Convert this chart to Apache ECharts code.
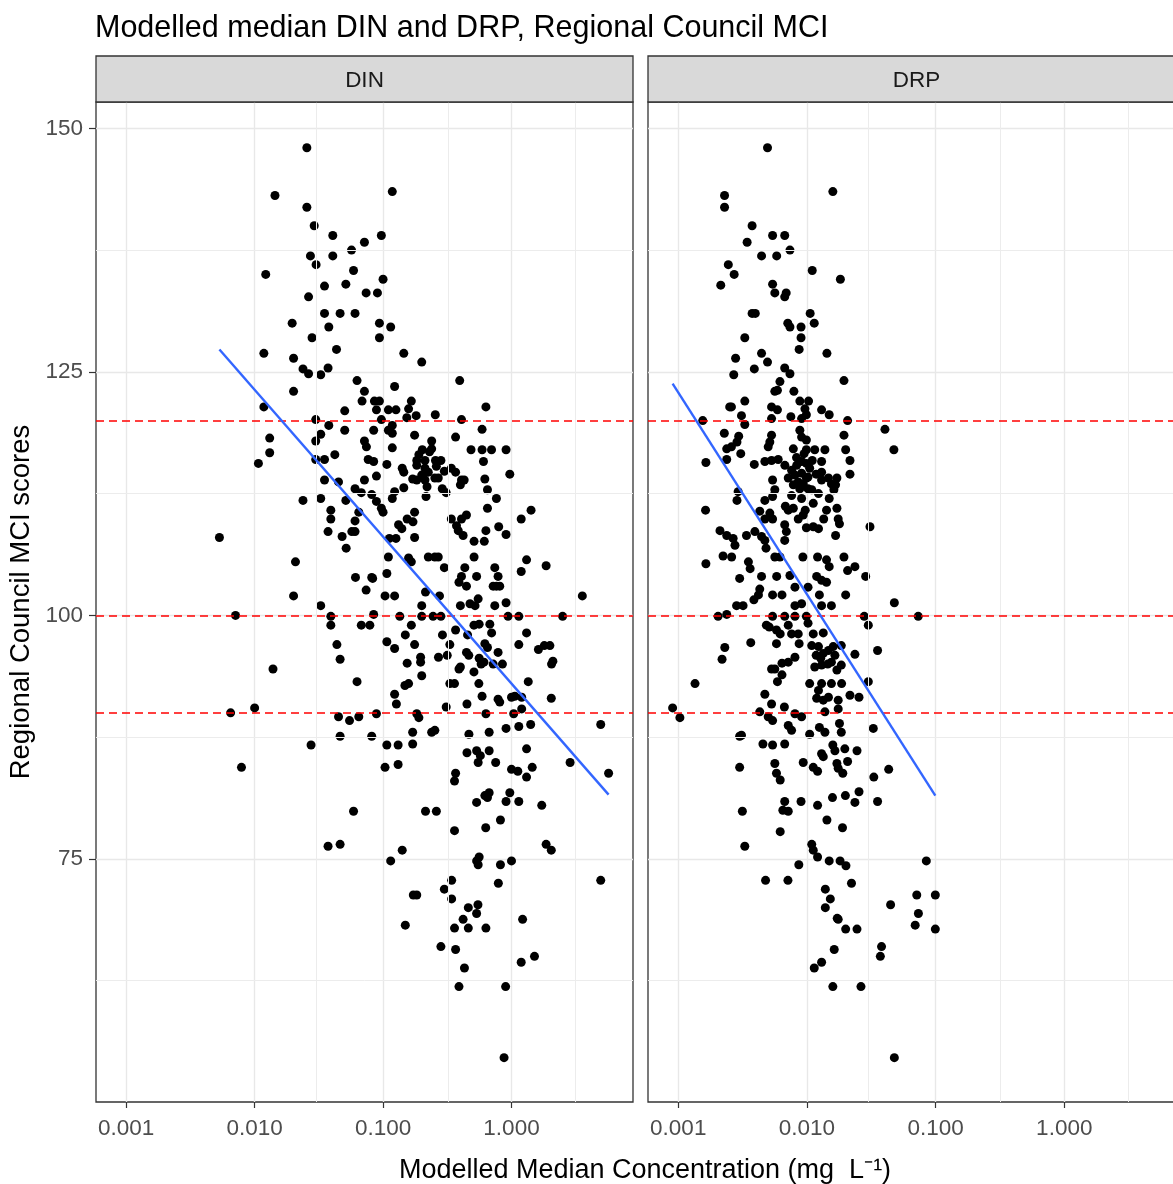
<!DOCTYPE html>
<html>
<head>
<meta charset="utf-8">
<title>Modelled median DIN and DRP, Regional Council MCI</title>
<script src="https://cdn.jsdelivr.net/npm/echarts@6.0.0/dist/echarts.min.js"></script>
<style>
  html, body { margin: 0; padding: 0; background: #fff; }
  #chart { width: 1173px; height: 1184px; }
</style>
</head>
<body>
<div id="chart"></div>
<script>
// facet names
var panels = ['DIN', 'DRP'];

// axis breaks (ggplot style: majors labelled, minors are log midpoints)
var xTicks = [0.001, 0.01, 0.1, 1];
var xMinor = [0.00316, 0.0316, 0.316, 3.16];
var yTicks = [75, 100, 125, 150];
var yMinor = [62.5, 87.5, 112.5, 137.5];

// red dashed reference lines (MCI quality classes)
var refLines = [120, 100, 90];

// [modelled median DIN (mg/L), MCI score]
var dinPoints = [
  [0.0255,148.0],[0.0144,143.1],[0.118,143.5],[0.0255,141.9],[0.0291,140.0],[0.0406,139.0],[0.097,139.0],[0.0716,138.3],
  [0.0568,137.5],[0.0272,136.9],[0.0406,136.9],[0.0301,136.0],[0.0122,135.0],[0.0589,135.4],[0.100,134.5],[0.035,133.8],
  [0.0513,134.0],[0.0263,132.7],[0.0738,133.1],[0.0904,133.1],[0.035,131.0],[0.0463,131.0],[0.0605,131.0],[0.0196,130.0],
  [0.0937,130.0],[0.1146,129.6],[0.0378,129.6],[0.028,128.5],[0.0937,128.5],[0.0434,127.3],[0.0118,126.9],[0.145,126.9],
  [0.0201,126.4],[0.2,126.0],[0.0373,125.4],[0.0238,125.3],[0.0263,124.8],[0.0327,124.7],
  [0.0627,124.1],[0.395,124.1],[0.123,123.5],[0.0201,123.0],[0.0716,123.0],[0.0686,122.0],[0.0856,122.0],[0.0937,122.0],
  [0.166,122.0],[0.0888,121.1],[0.110,121.1],[0.126,121.1],[0.0118,121.4],[0.0503,121.0],[0.158,121.2],[0.632,121.4],
  [0.255,120.6],[0.181,120.5],[0.0299,120.1],[0.097,120.1],[0.118,119.5],[0.153,120.3],[0.408,120.1],[0.0378,119.5],
  [0.0131,118.2],[0.0327,118.6],[0.0299,117.9],[0.0503,119.0],[0.0845,119.0],[0.110,119.0],[0.118,118.7],[0.176,118.5],
  [0.367,118.3],[0.59,119.1],[0.0716,117.9],[0.0742,117.3],[0.239,117.9],[0.118,117.2],[0.0131,116.7],[0.202,117.0],
  [0.239,117.1],[0.484,117.0],[0.59,117.0],[0.699,117.0],[0.907,117.0],[0.0107,115.6],[0.0299,116.0],[0.035,116.0],
  [0.0421,116.5],[0.0766,116.0],[0.0845,115.8],[0.107,115.5],
  [0.183,115.9],[0.212,115.9],[0.256,115.9],[0.282,115.9],[0.183,115.4],[0.212,115.1],[0.2,114.4],[0.225,114.7],
  [0.253,114.1],[0.183,113.9],[0.212,113.9],[0.269,114.1],[0.19,116.5],[0.23,116.8],[0.26,115.3],[0.3,114.8],
  [0.22,113.2],[0.17,114.0],
  [0.605,115.8],[0.141,115.1],[0.145,114.7],[0.34,115.1],[0.367,114.7],[0.97,114.5],[0.0888,114.3],[0.035,113.9],
  [0.045,113.7],[0.0716,113.9],[0.408,113.9],[0.428,113.9],[0.4,113.4],[0.62,114.0],[0.65,112.9],[0.145,113.1],
  [0.0605,113.0],[0.0677,112.6],[0.123,112.7],[0.118,112.0],[0.289,113.0],[0.31,112.6],[0.216,112.2],[0.0238,111.8],
  [0.0327,112.0],[0.0513,111.8],[0.0816,112.4],[0.0888,111.7],[0.097,111.0],[0.1,110.6],[0.763,112.0],[0.0392,110.8],
  [0.0392,109.9],[0.0647,110.6],[0.176,110.6],[0.65,111.0],[1.42,110.8],[0.0605,109.7],[0.154,109.9],[0.171,109.6],
  [0.34,109.9],[0.408,109.9],[0.446,110.3],[1.19,109.9],[0.0373,108.6],[0.0605,108.6],[0.0571,108.6],[0.132,109.3],
  [0.14,108.9],[0.373,109.2],[0.385,108.7],[0.42,108.2],[0.632,108.7],[0.795,109.1],[0.907,108.3],[0.048,108.1],
  [0.112,107.9],[0.126,107.9],[0.176,108.0],[0.511,107.6],[0.614,107.6],[0.0516,106.9],[0.11,106.0],[0.158,105.9],
  [0.166,105.5],[0.225,106.0],[0.253,106.0],[0.269,106.0],[0.511,106.0],[0.0208,105.5],[1.31,105.7],[1.86,105.1],
  [0.3,104.9],[0.433,104.9],[0.741,104.9],[1.19,104.5],[0.061,103.9],[0.0816,103.9],[0.083,103.8],[0.107,104.3],
  [0.408,104.0],[0.39,103.4],[0.535,104.0],[0.786,104.0],[0.72,103.0],[0.763,103.0],[0.81,103.0],[0.446,103.0],
  [0.0738,102.6],[0.0201,102.0],[0.1036,102.0],[0.123,102.0],[0.214,102.4],[0.275,102.0],[3.56,102.0],[0.0327,101.0],
  [0.2,101.0],[0.4,101.0],[0.475,101.2],[0.52,101.0],[0.55,101.7],[0.741,101.0],[0.907,101.3],[0.00532,108.0],
  [0.0071,100.0],[0.0392,99.9],[0.0392,99.0],[0.0677,99.0],[0.0789,99.0],[0.0845,100.1],[0.135,99.9],[0.2,99.9],
  [0.245,99.9],[0.282,99.9],[0.166,99.0],[0.149,98.0],[0.29,98.0],[0.94,99.9],[1.14,99.9],[2.5,99.9],
  [0.51,99.0],[0.56,99.1],[0.678,99.1],[0.7,98.2],[0.367,98.5],[0.455,98.0],[1.31,98.2],[0.0437,97.0],
  [0.107,97.3],[0.123,96.6],[0.176,97.0],[0.331,97.0],[0.62,97.1],[0.65,96.7],[0.786,96.2],[1.14,97.0],
  [1.62,96.5],[1.8,96.9],[1.99,96.9],[0.0463,95.5],[0.0139,94.5],[0.196,95.7],[0.196,95.2],[0.154,95.1],
  [0.27,95.7],[0.316,95.9],[0.446,96.2],[0.465,95.9],[0.56,95.6],[0.58,95.0],[0.61,95.2],[0.72,95.0],
  [0.85,95.0],[2.05,95.0],[2.1,95.3],[0.4,94.7],[0.39,94.5],[0.51,94.2],[0.0627,93.2],[0.2,93.8],
  [0.148,92.8],[0.158,93.0],[0.331,93.0],[0.36,93.0],[0.557,93.0],[1.35,93.2],[0.123,91.9],[0.127,90.9],
  [0.59,91.7],[0.786,91.4],[0.81,91.1],[1.0,91.6],[1.06,91.7],[1.2,91.6],[2.04,91.5],[0.31,90.6],
  [0.45,90.9],[0.0065,90.0],[0.01,90.5],[0.045,89.6],[0.0548,89.2],[0.0647,89.6],[0.0888,89.9],[0.183,89.9],
  [0.19,89.5],[0.632,89.9],[1.04,89.9],[1.2,90.4],[4.95,88.8],[0.0463,87.6],[0.0816,87.6],[0.0275,86.7],
  [0.17,88.0],[0.17,86.8],[0.239,88.0],[0.253,88.2],[0.466,87.8],[0.67,88.0],[0.907,88.4],[1.14,88.6],
  [1.41,88.8],[0.107,86.7],[0.131,86.7],[0.0079,84.4],[0.1036,84.4],[0.131,84.7],[0.45,85.9],[0.535,86.1],
  [0.572,85.6],[0.55,84.9],[0.67,86.1],[0.753,84.9],[1.31,86.3],[1.0,84.2],[1.12,84.0],[1.31,83.4],
  [1.45,84.4],[2.86,84.9],[5.7,83.8],[0.367,83.8],[0.36,83.0],[0.535,80.8],[0.62,81.5],[0.67,81.8],
  [0.65,81.3],[0.907,80.9],[0.97,81.8],[1.14,80.9],[1.72,80.5],[0.0589,79.9],[0.214,79.9],[0.26,79.9],
  [0.82,79.0],[0.36,77.9],[0.63,78.2],
  [0.0373,76.3],[0.0463,76.5],[0.141,75.9],[0.1146,74.8],[1.86,76.5],[2.04,75.9],[0.535,74.8],[0.55,74.4],
  [0.56,75.2],[0.82,74.4],[1.0,74.8],[4.95,72.8],[0.342,72.8],[0.3,71.9],[0.342,70.9],[0.172,71.3],
  [0.183,71.3],[0.79,72.5],[0.461,70.0],[0.548,70.3],[0.535,69.4],[0.42,68.8],[1.22,68.8],[0.149,68.2],
  [0.36,67.9],[0.461,67.9],[0.632,67.9],[0.282,66.0],[0.367,65.7],[0.43,63.8],[1.19,64.4],[1.51,65.0],
  [0.39,61.9],[0.9,61.9],[0.875,54.6]
];

// [modelled median DRP (mg/L), MCI score]
var drpPoints = [
  [0.00494,148.0],[0.00229,143.1],[0.00229,141.9],[0.0159,143.5],[0.00375,140.0],[0.00541,139.0],[0.00672,139.0],[0.00343,138.3],
  [0.00738,137.5],[0.00444,136.9],[0.00582,136.9],[0.00245,136.0],[0.00272,135.0],[0.011,135.4],[0.0182,134.5],[0.00214,133.9],
  [0.00541,134.0],[0.00563,133.1],[0.0069,133.1],[0.00672,132.7],[0.00375,131.0],[0.00397,131.0],[0.0106,131.0],[0.0114,130.0],
  [0.0071,130.0],[0.00738,129.6],[0.009,129.6],[0.009,128.5],[0.0087,127.3],[0.00329,128.5],[0.0143,126.9],[0.00444,126.9],
  [0.00494,126.0],[0.00279,126.4],[0.0039,125.3],[0.0027,124.7],[0.00672,125.4],[0.00738,124.8],
  [0.0194,124.1],[0.00617,124.0],[0.0059,123.1],[0.00563,123.0],[0.00792,123.0],[0.00329,122.0],[0.00881,122.0],[0.0103,122.0],
  [0.00259,121.4],[0.00251,121.4],[0.00531,121.4],[0.0059,121.1],[0.00965,121.2],[0.0099,120.6],[0.013,121.1],[0.0149,120.6],
  [0.0031,120.5],[0.00329,119.6],[0.00155,120.0],[0.00531,120.2],[0.0075,120.4],[0.00909,120.2],[0.0207,120.0],[0.0404,119.1],
  [0.00228,118.7],[0.00295,118.4],[0.00286,117.8],[0.00259,117.3],[0.00531,118.5],[0.00515,117.8],[0.005,117.3],[0.00881,119.0],
  [0.00909,118.3],[0.0099,118.0],[0.0194,118.5],[0.00238,117.1],[0.00306,116.6],[0.00784,117.1],[0.0099,117.0],[0.0115,117.0],
  [0.0138,117.0],[0.02,117.0],[0.0216,115.9],[0.0474,117.0],[0.00164,115.7],[0.00238,116.0],[0.0039,115.5],[0.00471,115.8],
  [0.00531,115.9],[0.00598,116.0],[0.00674,115.4],
  [0.0076,114.9],[0.00832,115.4],[0.00909,115.8],[0.0099,115.6],[0.0105,115.1],[0.00807,114.4],[0.00909,114.6],[0.0102,114.2],
  [0.00716,114.1],[0.00856,113.7],[0.00936,113.5],[0.00784,113.4],[0.0099,114.1],[0.0083,116.2],[0.0095,116.6],[0.011,115.9],
  [0.0088,113.0],[0.0112,111.5],[0.0068,111.2],[0.0097,110.8],[0.0118,114.5],
  [0.013,115.8],[0.013,114.7],[0.013,113.9],[0.0147,114.1],[0.0155,113.5],[0.0171,114.1],[0.0167,113.4],[0.0162,112.9],
  [0.0216,114.5],[0.00541,113.9],[0.00563,112.9],[0.00541,112.2],[0.00292,112.7],[0.00286,111.8],[0.0102,113.0],[0.0109,112.9],
  [0.0123,112.5],[0.0076,112.3],[0.00909,112.0],[0.00471,111.8],[0.0149,112.0],[0.00163,110.8],[0.0043,110.7],[0.00515,110.5],
  [0.00541,109.9],[0.00471,109.9],[0.00716,110.8],[0.00784,111.0],[0.00936,110.3],[0.00856,109.9],[0.0142,110.8],[0.0171,111.0],
  [0.0135,109.9],[0.0175,109.9],[0.0179,109.4],[0.0309,109.1],[0.00211,108.7],[0.00238,108.2],[0.00267,107.9],[0.00276,107.2],
  [0.00339,108.2],[0.00394,108.6],[0.00444,108.1],[0.00471,107.7],[0.00672,109.3],[0.00692,108.6],[0.00672,107.7],[0.0099,109.0],
  [0.0112,109.1],[0.0123,108.9],[0.0167,108.2],[0.00481,106.9],[0.00223,106.1],[0.0026,106.0],[0.00164,105.3],[0.00563,106.0],
  [0.00617,106.0],[0.0093,106.0],[0.0121,106.0],[0.0142,105.7],[0.0149,105.0],[0.0194,106.0],[0.00351,105.5],[0.00362,104.8],
  [0.0207,104.6],[0.0236,105.0],[0.0286,104.0],[0.003,103.8],[0.00444,104.0],[0.00582,104.0],[0.00738,104.1],[0.0119,104.0],
  [0.013,103.6],[0.0142,103.4],[0.00807,102.9],[0.0102,102.9],[0.0043,102.7],[0.0042,102.1],[0.00387,101.6],[0.00541,102.1],
  [0.0064,102.1],[0.0125,102.1],[0.02,102.1],[0.0478,101.3],[0.00284,101.0],[0.00319,101.0],[0.00807,101.0],[0.00909,101.2],
  [0.013,101.0],[0.0155,101.0],
  [0.00204,99.9],[0.00238,100.1],[0.00541,99.9],[0.00672,99.9],[0.00807,99.9],[0.0099,99.9],[0.0279,99.9],[0.0733,99.9],
  [0.00484,99.0],[0.0051,98.8],[0.0058,98.5],[0.0062,98.1],[0.00716,99.0],[0.0076,98.1],[0.00856,98.1],[0.0102,99.2],
  [0.0112,98.1],[0.0134,98.2],[0.03,99.0],[0.00366,97.2],[0.0023,96.7],[0.00219,95.5],[0.0058,97.1],[0.0087,97.1],
  [0.0109,96.9],[0.0123,96.8],[0.0134,96.1],[0.0147,96.4],[0.0165,95.9],[0.0185,96.9],[0.0236,96.0],[0.0354,96.4],
  [0.0128,95.6],[0.0145,95.0],[0.016,96.8],[0.0118,95.9],
  [0.00807,95.7],[0.00716,95.2],[0.0064,95.1],[0.00563,94.5],[0.00531,94.5],[0.0115,94.7],[0.013,94.9],[0.0155,95.2],
  [0.0171,94.4],[0.0185,94.9],[0.0064,93.9],[0.0059,93.2],[0.00135,93.0],[0.0105,93.0],[0.013,93.0],[0.0155,93.0],
  [0.0186,93.0],[0.03,93.2],[0.00471,91.9],[0.00531,90.9],[0.0123,92.3],[0.0119,91.5],[0.0134,91.3],[0.0147,91.6],
  [0.0175,91.3],[0.0175,90.4],[0.0216,91.8],[0.0254,91.6],[0.000904,90.5],[0.00103,89.5],[0.00668,90.6],[0.00807,89.9],
  [0.00909,89.6],[0.0043,90.1],[0.005,89.6],[0.00541,89.2],[0.0138,90.1],[0.0179,88.9],[0.0185,88.0],[0.0328,88.4],
  [0.003,87.6],[0.0031,87.7],[0.00716,88.7],[0.0076,88.2],[0.0105,87.8],[0.0125,88.5],[0.0138,88.0],[0.00455,86.8],
  [0.00541,86.7],[0.00672,86.8],[0.0159,86.7],[0.0165,86.1],[0.0197,86.3],[0.013,85.8],[0.0134,85.5],[0.0245,86.1],
  [0.003,84.4],[0.00563,84.8],[0.0058,83.8],[0.0062,83.1],[0.00936,84.9],[0.0112,84.4],[0.0121,84.0],[0.0171,84.8],
  [0.0175,84.3],[0.019,83.8],[0.0207,85.0],[0.0331,83.4],[0.0432,84.2],[0.00315,79.9],[0.00672,80.9],[0.0065,80.0],
  [0.00716,79.9],[0.009,80.9],[0.0121,80.5],[0.0158,81.3],[0.0199,81.5],[0.0254,81.9],[0.0236,80.8],[0.0354,80.9],
  [0.0143,79.0],[0.0189,78.2],[0.0062,77.8],
  [0.00329,76.3],[0.0109,76.5],[0.0112,75.9],[0.0121,75.2],[0.0149,74.8],[0.0181,74.8],[0.0201,74.3],[0.00865,74.4],
  [0.0847,74.8],[0.00477,72.8],[0.00712,72.8],[0.0222,72.5],[0.0139,71.9],[0.0152,70.9],[0.0139,70.0],[0.0447,70.3],
  [0.0714,71.3],[0.0735,69.4],[0.0694,68.2],[0.0995,71.3],[0.0995,67.8],[0.0172,68.9],[0.0175,68.8],[0.02,67.8],
  [0.0245,67.8],[0.0163,65.7],[0.038,66.0],[0.0372,65.0],[0.013,64.4],[0.0114,63.8],[0.0159,61.9],[0.0263,61.9],
  [0.0478,54.6]
];

// linear fits (MCI ~ log10 conc), end points over each data range
var dinFit = [[0.00532, 127.3], [5.7, 81.6]];
var drpFit = [[0.000904, 123.8], [0.0995, 81.5]];

var FONT = '"Liberation Sans", Arial, sans-serif';
var chart = echarts.init(document.getElementById('chart'), null, {renderer: 'canvas'});

var gridBoxes = [
  {left: 96, top: 102, width: 537, height: 1000},
  {left: 648, top: 102, width: 538, height: 1000}
];

var grids = [], xAxes = [], yAxes = [], series = [], graphics = [];

panels.forEach(function (name, i) {
  var box = gridBoxes[i];
  grids.push({
    left: box.left, top: box.top, width: box.width, height: box.height,
    outerBoundsMode: 'none',
    show: true, borderColor: '#333333', borderWidth: 1.3, backgroundColor: '#ffffff'
  });
  xAxes.push({
    type: 'log', logBase: 10, gridIndex: i,
    min: 0.000582, max: 8.83,
    axisLine: {show: false},
    axisTick: {show: true, length: 6, customValues: xTicks, lineStyle: {color: '#333333', width: 1.2}},
    axisLabel: {
      customValues: xTicks, margin: 15, color: '#4d4d4d', fontSize: 22.5, fontFamily: FONT,
      formatter: function (v) { return Number(v).toFixed(3); }
    },
    splitLine: {show: true, lineStyle: {color: '#e8e8e8', width: 1.4}}
  });
  yAxes.push({
    type: 'value', gridIndex: i,
    min: 50.05, max: 152.7,
    name: i === 0 ? 'Regional Council MCI scores' : '',
    nameLocation: 'middle', nameGap: 61,
    nameTextStyle: {fontSize: 27.5, color: '#000000', fontFamily: FONT},
    axisLine: {show: false},
    axisTick: {show: i === 0, length: 7, customValues: yTicks, lineStyle: {color: '#333333', width: 1.2}},
    axisLabel: {show: i === 0, customValues: yTicks, margin: 13, color: '#4d4d4d', fontSize: 22.5, fontFamily: FONT},
    splitLine: {show: true, lineStyle: {color: '#e8e8e8', width: 1.4}}
  });

  // minor grid lines at log / linear midpoints
  series.push({
    type: 'scatter', xAxisIndex: i, yAxisIndex: i, data: [], z: 1, silent: true,
    markLine: {
      silent: true, symbol: 'none', label: {show: false}, animation: false,
      lineStyle: {color: '#ececec', width: 1, type: 'solid'},
      data: xMinor.map(function (v) { return {xAxis: v}; })
        .concat(yMinor.map(function (v) { return {yAxis: v}; }))
    }
  });

  series.push({
    type: 'scatter', name: name, xAxisIndex: i, yAxisIndex: i,
    data: i === 0 ? dinPoints : drpPoints,
    symbol: 'circle', symbolSize: 9, z: 3,
    itemStyle: {color: '#000000', opacity: 1}
  });

  // reference class boundaries
  series.push({
    type: 'scatter', xAxisIndex: i, yAxisIndex: i, data: [], z: 4, silent: true,
    markLine: {
      silent: true, symbol: 'none', label: {show: false}, animation: false,
      lineStyle: {color: '#ff0000', width: 1.6, type: [8, 5]},
      data: refLines.map(function (v) { return {yAxis: v}; })
    }
  });

  series.push({
    type: 'line', xAxisIndex: i, yAxisIndex: i,
    data: i === 0 ? dinFit : drpFit,
    showSymbol: false, symbol: 'none', z: 5, silent: true,
    lineStyle: {color: '#3366ff', width: 2.4}
  });

  // facet strip
  graphics.push({
    type: 'rect', z: 10,
    shape: {x: box.left, y: 56, width: box.width, height: 46},
    style: {fill: '#d9d9d9', stroke: '#333333', lineWidth: 1.3}
  });
  graphics.push({
    type: 'text', z: 11,
    x: box.left + 537 / 2, y: 81,
    style: {text: name, fill: '#1a1a1a', fontSize: 22.5, fontFamily: FONT,
      textAlign: 'center', textVerticalAlign: 'middle'}
  });
});

graphics.push({
  type: 'text', z: 11, x: 645, y: 1171,
  style: {
    text: 'Modelled Median Concentration (mg  L\u207B\u00B9)',
    fill: '#000000', fontSize: 27, fontFamily: FONT,
    textAlign: 'center', textVerticalAlign: 'middle'
  }
});

chart.setOption({
  backgroundColor: '#ffffff',
  animation: false,
  title: {
    text: 'Modelled median DIN and DRP, Regional Council MCI',
    left: 95, top: 13, padding: 0,
    textStyle: {fontSize: 30.5, fontWeight: 'normal', color: '#000000', fontFamily: FONT}
  },
  grid: grids,
  xAxis: xAxes,
  yAxis: yAxes,
  series: series,
  graphic: graphics
});
</script>
</body>
</html>
